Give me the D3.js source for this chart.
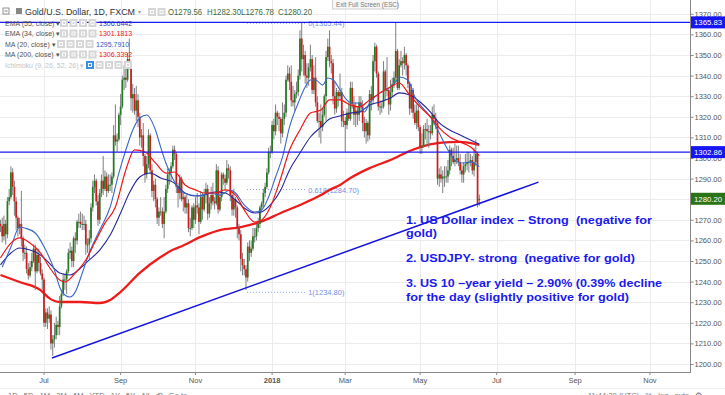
<!DOCTYPE html>
<html>
<head>
<meta charset="utf-8">
<script src="https://cdn.jsdelivr.net/npm/d3@7/dist/d3.min.js"></script>
<style>
html, body { margin: 0; padding: 0; background: #fff; overflow: hidden; }
svg { display: block; font-family: "Liberation Sans", Arial, sans-serif; }
</style>
</head>
<body>
<svg id="chart" width="725" height="395"></svg>
<script>
// daily bars, first one is Mon 29 May 2017 (weekdays only)
var startDay = '2017-05-29';

// [open, high, low, close], one row per week
var candles = [
  [1268,1270,1264,1267],[1267,1271,1259,1262],[1262,1272,1260,1268],[1268,1270,1258,1263],[1263,1281,1261,1279],
  [1279,1285,1277,1281],[1281,1296,1280,1293],[1293,1295,1282,1286],[1286,1289,1272,1279],[1279,1281,1265,1271],
  [1271,1272,1262,1266],[1266,1271,1263,1268],[1268,1284,1257,1261],[1261,1262,1250,1254],[1254,1258,1251,1254],
  [1254,1257,1244,1246],[1246,1249,1241,1243],[1243,1250,1242,1247],[1247,1254,1245,1250],[1250,1258,1249,1256],
  [1256,1258,1236,1245],[1245,1256,1244,1253],[1253,1256,1245,1249],[1249,1252,1243,1244],[1244,1246,1236,1241],
  [1241,1242,1218,1220],[1220,1227,1218,1225],[1225,1227,1217,1222],[1222,1228,1220,1224],[1224,1226,1207,1210],
  [1210,1214,1204,1212],[1212,1220,1208,1214],[1214,1223,1212,1219],[1219,1221,1214,1218],[1218,1233,1214,1228],
  [1228,1236,1227,1234],[1234,1244,1233,1241],[1241,1244,1236,1241],[1241,1246,1234,1245],[1245,1256,1244,1254],
  [1254,1259,1251,1255],[1255,1257,1247,1250],[1250,1262,1247,1261],[1261,1264,1254,1260],[1260,1270,1258,1269],
  [1269,1273,1266,1269],[1269,1274,1266,1268],[1268,1273,1265,1268],[1268,1272,1265,1268],[1268,1270,1253,1258],
  [1258,1261,1254,1258],[1258,1265,1251,1261],[1261,1278,1259,1276],[1276,1289,1274,1286],[1286,1292,1283,1289],
  [1289,1290,1277,1279],[1279,1282,1267,1270],[1270,1285,1268,1283],[1283,1292,1281,1289],[1289,1301,1282,1285],
  [1285,1294,1284,1291],[1291,1293,1281,1284],[1284,1292,1283,1287],[1287,1292,1284,1287],[1287,1293,1283,1291],
  [1291,1316,1290,1311],[1311,1326,1306,1308],[1308,1312,1303,1309],[1309,1322,1308,1321],[1321,1331,1316,1325],
  [1325,1340,1324,1338],[1338,1345,1333,1339],[1339,1344,1334,1338],[1338,1351,1337,1348],[1348,1358,1343,1346],
  [1346,1347,1323,1329],[1329,1336,1322,1331],[1331,1334,1321,1323],[1323,1335,1318,1328],[1328,1331,1315,1320],
  [1320,1322,1306,1310],[1310,1314,1305,1311],[1311,1317,1296,1301],[1301,1302,1288,1292],[1292,1301,1290,1297],
  [1297,1314,1295,1311],[1311,1312,1292,1294],[1294,1297,1281,1284],[1284,1289,1279,1287],[1287,1290,1276,1280],
  [1280,1281,1268,1271],[1271,1276,1267,1274],[1274,1281,1272,1274],[1274,1276,1266,1268],[1268,1281,1261,1274],
  [1274,1287,1273,1285],[1285,1295,1283,1292],[1292,1295,1287,1293],[1293,1298,1289,1296],[1296,1306,1295,1304],
  [1304,1306,1299,1302],[1302,1303,1283,1286],[1286,1288,1276,1283],[1283,1292,1280,1290],[1290,1291,1279,1280],
  [1280,1283,1274,1281],[1281,1282,1273,1276],[1276,1282,1273,1278],[1278,1280,1264,1266],[1266,1271,1262,1266],
  [1266,1277,1265,1276],[1276,1278,1266,1270],[1270,1281,1268,1277],[1277,1283,1273,1276],[1276,1278,1263,1269],
  [1269,1284,1268,1281],[1281,1283,1270,1275],[1275,1285,1274,1282],[1282,1288,1278,1285],[1285,1287,1270,1273],
  [1273,1281,1271,1278],[1278,1286,1275,1282],[1282,1288,1277,1279],[1279,1281,1275,1278],[1278,1297,1277,1294],
  [1294,1296,1273,1275],[1275,1283,1274,1281],[1281,1293,1279,1292],[1292,1293,1287,1290],[1290,1292,1284,1288],
  [1288,1299,1287,1295],[1295,1297,1290,1294],[1294,1296,1279,1282],[1282,1284,1272,1275],[1275,1285,1272,1280],
  [1280,1281,1271,1276],[1276,1277,1261,1266],[1266,1268,1260,1263],[1263,1265,1245,1251],[1251,1254,1243,1248],
  [1248,1251,1243,1246],[1246,1248,1236,1242],[1242,1259,1240,1257],[1257,1260,1250,1254],[1254,1260,1252,1256],
  [1256,1266,1255,1262],[1262,1266,1259,1262],[1262,1268,1260,1266],[1266,1271,1264,1268],[1268,1277,1266,1276],
  [1276,1279,1274,1278],[1278,1285,1276,1283],[1283,1288,1281,1286],[1286,1295,1285,1293],[1293,1305,1292,1303],
  [1303,1306,1300,1303],[1303,1318,1302,1316],[1316,1319,1309,1313],[1313,1326,1311,1322],[1322,1323,1316,1320],
  [1320,1322,1313,1319],[1319,1320,1307,1312],[1312,1327,1310,1319],[1319,1326,1316,1322],[1322,1340,1320,1338],
  [1338,1345,1337,1341],[1341,1344,1333,1337],[1337,1345,1325,1328],[1328,1335,1325,1327],[1327,1333,1323,1331],
  [1331,1337,1329,1332],[1332,1343,1330,1340],[1340,1362,1338,1358],[1358,1366,1342,1348],[1348,1355,1340,1350],
  [1350,1352,1336,1340],[1340,1346,1334,1339],[1339,1346,1335,1344],[1344,1355,1342,1348],[1348,1350,1331,1333],
  [1333,1345,1331,1339],[1339,1349,1325,1327],[1327,1330,1317,1318],[1318,1322,1310,1318],[1318,1326,1307,1315],
  [1315,1324,1313,1321],[1321,1331,1320,1330],[1330,1352,1318,1349],[1349,1358,1347,1354],[1354,1362,1344,1347],
  [1347,1350,1341,1346],[1346,1348,1326,1330],[1330,1337,1321,1324],[1324,1334,1322,1332],[1332,1333,1325,1330],
  [1330,1341,1328,1332],[1332,1334,1315,1318],[1318,1323,1315,1318],[1318,1320,1303,1316],[1316,1324,1314,1322],
  [1322,1327,1318,1319],[1319,1337,1318,1334],[1334,1337,1324,1326],[1326,1330,1316,1321],[1321,1327,1315,1323],
  [1323,1325,1316,1321],[1321,1330,1318,1327],[1327,1330,1322,1325],[1325,1328,1313,1317],[1317,1320,1310,1313],
  [1313,1319,1307,1317],[1317,1318,1308,1311],[1311,1333,1309,1331],[1331,1335,1323,1328],[1328,1350,1326,1347],
  [1347,1356,1342,1354],[1354,1355,1339,1341],[1341,1342,1323,1325],[1325,1328,1321,1325],[1325,1327,1322,1325],
  [1325,1347,1324,1342],[1342,1343,1328,1333],[1333,1349,1330,1333],[1333,1334,1321,1326],[1326,1338,1323,1332],
  [1332,1339,1330,1336],[1336,1342,1334,1339],[1339,1366,1337,1352],[1352,1353,1333,1334],[1334,1348,1333,1345],
  [1345,1352,1344,1347],[1347,1349,1340,1346],[1346,1354,1343,1350],[1350,1351,1340,1345],[1345,1346,1334,1336],
  [1336,1337,1321,1324],[1324,1336,1322,1333],[1333,1334,1319,1322],[1322,1326,1316,1317],[1317,1326,1314,1323],
  [1323,1326,1313,1315],[1315,1316,1302,1305],[1305,1312,1302,1306],[1306,1316,1305,1314],[1314,1317,1309,1314],
  [1314,1319,1306,1313],[1313,1316,1305,1313],[1313,1316,1309,1312],[1312,1325,1311,1321],[1321,1326,1316,1319],
  [1319,1322,1314,1317],[1317,1318,1287,1290],[1290,1295,1286,1292],[1292,1296,1288,1290],[1290,1294,1283,1291],
  [1291,1296,1286,1291],[1291,1296,1288,1291],[1291,1299,1288,1294],[1294,1306,1292,1304],[1304,1305,1296,1301],
  [1301,1305,1297,1298],[1298,1307,1296,1299],[1299,1306,1297,1300],[1300,1306,1296,1298],[1298,1302,1292,1294],
  [1294,1297,1288,1292],[1292,1298,1288,1296],[1296,1302,1293,1297],[1297,1303,1294,1298],[1298,1303,1293,1298],
  [1298,1302,1296,1299],[1299,1301,1292,1294],[1294,1305,1291,1298],[1298,1309,1296,1302],[1302,1303,1276,1278],
  [1279.56,1282.30,1276.78,1280.20]
];

// indicator lines, [bar number, value]
var ema55 = [[0,1248.1],[6,1253.9],[11,1256.3],[17,1255.3],[23,1252.9],[28,1249.0],[34,1244.2],[40,1243.2],
  [46,1246.6],[51,1250.5],[57,1255.3],[63,1262.6],[69,1273.3],[74,1283.0],[80,1290.8],[86,1292.7],[92,1290.3],
  [99,1288.3],[106,1283.0],[112,1281.6],[117,1282.0],[123,1283.5],[129,1283.0],[135,1279.6],[140,1275.7],
  [146,1273.3],[150,1273.8],[155,1277.2],[161,1284.5],[166,1294.2],[172,1302.4],[178,1310.2],[184,1315.0],
  [189,1318.9],[195,1320.4],[201,1321.8],[206,1322.3],[212,1325.7],[218,1327.2],[224,1329.1],[229,1331.6],
  [235,1330.6],[241,1327.2],[247,1322.3],[252,1317.0],[258,1313.6],[264,1311.2],[270,1308.7],[275,1306.64]];

var ema34 = [[0,1251.5],[6,1258.7],[11,1261.2],[17,1258.7],[23,1253.9],[28,1247.1],[34,1240.8],[37,1239.8],
  [43,1244.2],[49,1250.5],[54,1258.7],[60,1268.4],[66,1276.2],[72,1294.2],[77,1303.9],[83,1302.9],[89,1297.6],
  [95,1292.7],[100,1293.2],[106,1286.9],[112,1284.5],[117,1283.0],[123,1283.0],[129,1284.5],[135,1282.0],
  [140,1274.8],[146,1268.9],[150,1269.9],[155,1276.2],[161,1290.3],[166,1303.9],[172,1313.6],[178,1321.8],
  [184,1323.3],[189,1328.2],[195,1328.2],[201,1325.7],[206,1324.8],[212,1328.2],[218,1331.6],[224,1334.5],
  [229,1336.4],[235,1330.6],[241,1324.8],[247,1319.9],[252,1314.6],[258,1310.2],[264,1307.8],[270,1305.3],
  [275,1301.18]];

var ma20 = [[1,1247.1],[6,1256.8],[11,1266.5],[14,1266.0],[20,1263.6],[26,1255.3],[31,1245.6],[34,1237.4],
  [37,1233.5],[40,1232.5],[43,1235.0],[47,1244.2],[51,1253.9],[57,1265.0],[63,1276.2],[68,1292.7],[72,1303.9],
  [76,1313.6],[80,1319.4],[84,1320.9],[89,1313.6],[92,1305.3],[95,1297.6],[100,1288.3],[103,1284.5],[109,1282.0],
  [115,1281.6],[120,1283.0],[126,1282.0],[132,1284.5],[135,1283.0],[140,1277.2],[146,1273.8],[150,1274.8],
  [154,1281.1],[158,1290.8],[162,1300.5],[166,1315.0],[171,1326.7],[175,1334.5],[178,1337.9],[181,1337.9],
  [185,1335.4],[188,1338.8],[191,1338.0],[195,1333.0],[198,1329.1],[202,1326.7],[206,1326.7],[209,1322.3],
  [212,1326.7],[218,1331.6],[224,1334.5],[227,1336.9],[229,1339.3],[234,1337.9],[238,1329.6],[242,1324.8],
  [247,1319.9],[252,1312.1],[257,1303.9],[261,1299.0],[265,1297.6],[270,1298.1],[275,1295.79]];

var ma200 = [[0,1243.2],[11,1239.8],[23,1235.9],[28,1232.0],[34,1230.1],[46,1230.1],[57,1229.6],[63,1231.1],
  [69,1235.0],[80,1244.2],[92,1251.9],[100,1255.8],[103,1256.8],[115,1261.7],[126,1265.0],[138,1266.5],
  [149,1268.9],[161,1273.3],[172,1277.2],[184,1282.0],[189,1284.5],[195,1286.9],[201,1290.3],[212,1295.1],
  [224,1299.0],[235,1303.4],[241,1305.3],[252,1307.3],[264,1307.8],[275,1306.34]];

var yTicks = [1200,1210,1220,1230,1240,1250,1260,1270,1280,1290,1300,1310,1320,1330,1340,1350,1360,1370];
var monthDays = ['2017-07-03','2017-09-01','2017-11-01','2018-01-02','2018-03-01','2018-05-01','2018-07-02','2018-09-03','2018-11-01'];
var monthLabels = ['Jul','Sep','Nov','2018','Mar','May','Jul','Sep','Nov'];

var hLevels = [1365.83, 1302.86];
var lastClose = 1280.20;
var trendLine = [[29.6,1202.9],[309,1288.3]];
var fibNames = ['0','0.618','1'];
var fibValues = [1365.44, 1284.70, 1234.80];
var fibBars = [141.6, 175];

var legendNames = ['EMA (55, close)','EMA (34, close)','MA (20, close)','MA (200, close)'];
var legendValues = ['1306.6442','1301.1813','1295.7910','1306.3392'];
var legendColors = ['#3434b8','#f01414','#2a5bc4','#f01414'];
var ohlcText = ['O1279.56','H1282.30','L1276.78','C1280.20'];

var notes = ['1. US Dollar index \u2013 Strong  (negative for','gold)','2. USDJPY- strong  (negative for gold)',
  '3. US 10 \u2013year yield \u2013 2.90% (0.39% decline','for the day (slightly positive for gold)'];
var noteY = [224, 237, 262, 287, 301];
var noteW = [246, 31, 229, 256, 223];

// count weekdays from startDay, that is the bar number
function barOf(day) {
  var t0 = Date.parse(startDay + 'T00:00:00Z'), t1 = Date.parse(day + 'T00:00:00Z');
  var n = 0;
  for (var t = t0; t < t1; t += 864e5) {
    var wd = new Date(t).getUTCDay();
    if (wd !== 0 && wd !== 6) n++;
  }
  return n;
}

var svg = d3.select('#chart');
var plotW = 690, plotH = 372;

var x = d3.scaleLinear().domain([0, 275]).range([0.47, 479.3]);
var y = d3.scaleLinear().domain([1200, 1370]).range([364, 13.8]);

svg.append('defs').append('clipPath').attr('id', 'plot')
  .append('rect').attr('x', 0).attr('y', 0).attr('width', plotW).attr('height', plotH);

// grid
var grid = svg.append('g');
grid.selectAll('line.h').data(yTicks).enter().append('line')
  .attr('x1', 0).attr('x2', plotW)
  .attr('y1', function (d) { return Math.round(y(d)) + 0.5; })
  .attr('y2', function (d) { return Math.round(y(d)) + 0.5; })
  .attr('stroke', '#ececec');
grid.selectAll('line.v').data(monthDays).enter().append('line')
  .attr('x1', function (d) { return Math.round(x(barOf(d))) + 0.5; })
  .attr('x2', function (d) { return Math.round(x(barOf(d))) + 0.5; })
  .attr('y1', 0).attr('y2', plotH)
  .attr('stroke', '#ececec');

var plot = svg.append('g').attr('clip-path', 'url(#plot)');

// fib retracement (dotted)
fibValues.forEach(function (v, i) {
  plot.append('line')
    .attr('x1', x(fibBars[0])).attr('x2', x(fibBars[1]))
    .attr('y1', y(v)).attr('y2', y(v))
    .attr('stroke', '#8aa2ee').attr('stroke-dasharray', '1,2');
  plot.append('text')
    .attr('x', x(fibBars[1]) + 3).attr('y', y(v) + 3)
    .attr('font-size', 7.5).attr('fill', '#6f8fe6')
    .text(fibNames[i] + '(' + v.toFixed(2) + ')');
});

// moving averages
var line = d3.line()
  .x(function (d) { return x(d[0]); })
  .y(function (d) { return y(d[1]); })
  .curve(d3.curveMonotoneX);

plot.append('path').datum(ma200).attr('d', line).attr('fill', 'none')
  .attr('stroke', '#ee1b1b').attr('stroke-width', 2.3);

// candles
var bw = 1.7;
var bars = plot.append('g');
bars.selectAll('line').data(candles).enter().append('line')
  .attr('x1', function (d, i) { return x(i); })
  .attr('x2', function (d, i) { return x(i); })
  .attr('y1', function (d) { return y(d[1]); })
  .attr('y2', function (d) { return y(d[2]); })
  .attr('stroke', '#707070').attr('stroke-width', 0.9);
bars.selectAll('rect').data(candles).enter().append('rect')
  .attr('x', function (d, i) { return x(i) - bw / 2; })
  .attr('y', function (d) { return y(Math.max(d[0], d[3])); })
  .attr('width', bw)
  .attr('height', function (d) { return Math.max(1, Math.abs(y(d[0]) - y(d[3]))); })
  .attr('fill', function (d) { return d[3] >= d[0] ? '#237a23' : '#cc1d1d'; });

plot.append('path').datum(ema55).attr('d', line).attr('fill', 'none')
  .attr('stroke', '#26269a').attr('stroke-width', 1.1);
plot.append('path').datum(ma20).attr('d', line).attr('fill', 'none')
  .attr('stroke', '#3868c8').attr('stroke-width', 1.1);
plot.append('path').datum(ema34).attr('d', line).attr('fill', 'none')
  .attr('stroke', '#f01818').attr('stroke-width', 1.2);

// trend line and horizontal levels
plot.append('line')
  .attr('x1', x(trendLine[0][0])).attr('y1', y(trendLine[0][1]))
  .attr('x2', x(trendLine[1][0])).attr('y2', y(trendLine[1][1]))
  .attr('stroke', '#1414dc').attr('stroke-width', 1.5);
hLevels.forEach(function (v) {
  plot.append('line').attr('x1', 0).attr('x2', plotW)
    .attr('y1', y(v)).attr('y2', y(v))
    .attr('stroke', '#1a1af0').attr('stroke-width', 1.4);
});

// axes frame
svg.append('line').attr('x1', plotW + 0.5).attr('x2', plotW + 0.5).attr('y1', 0).attr('y2', plotH)
  .attr('stroke', '#888');
svg.append('line').attr('x1', 0).attr('x2', plotW + 1).attr('y1', plotH + 0.5).attr('y2', plotH + 0.5)
  .attr('stroke', '#888');

// right axis, the price tags below are drawn on top of it
var yAxis = d3.axisRight(y).tickValues(yTicks).tickSize(3).tickFormat(d3.format('.2f'));
var ya = svg.append('g').attr('transform', 'translate(' + (plotW + 0.5) + ',0)').call(yAxis);
ya.select('.domain').remove();
ya.selectAll('line').attr('stroke', '#888');
ya.selectAll('text').attr('font-size', 7.5).attr('fill', '#555').attr('x', 4)
  .attr('font-family', '"Liberation Sans", Arial, sans-serif');

// bottom axis
var xa = svg.append('g');
xa.selectAll('text').data(monthDays).enter().append('text')
  .attr('x', function (d) { return x(barOf(d)); })
  .attr('y', 383)
  .attr('text-anchor', 'middle')
  .attr('font-size', 7.5).attr('fill', '#555')
  .attr('font-weight', function (d, i) { return monthLabels[i] === '2018' ? 'bold' : 'normal'; })
  .text(function (d, i) { return monthLabels[i]; });
xa.selectAll('line').data(monthDays).enter().append('line')
  .attr('x1', function (d) { return x(barOf(d)); })
  .attr('x2', function (d) { return x(barOf(d)); })
  .attr('y1', plotH).attr('y2', plotH + 3).attr('stroke', '#888');

// price tags on the axis
function tag(v, color) {
  svg.append('rect').attr('x', plotW + 1).attr('y', y(v) - 6).attr('width', 34).attr('height', 12)
    .attr('fill', color);
  svg.append('text').attr('x', plotW + 4).attr('y', y(v) + 3)
    .attr('font-size', 7.8).attr('fill', '#fff').text(v.toFixed(2));
}
hLevels.forEach(function (v) { tag(v, '#1515f5'); });
tag(lastClose, '#2b7317');

// annotation text
svg.selectAll('text.note').data(notes).enter().append('text')
  .attr('x', 406)
  .attr('y', function (d, i) { return noteY[i]; })
  .attr('textLength', function (d, i) { return noteW[i]; })
  .attr('lengthAdjust', 'spacingAndGlyphs')
  .attr('font-size', 11.5).attr('font-weight', 'bold').attr('fill', '#1a1af0')
  .style('white-space', 'pre')
  .text(function (d) { return d; });

// legend, top left
function icons(x0, yc, n, first) {
  for (var k = 0; k < n; k++) {
    svg.append('rect').attr('x', x0 + k * 9.5).attr('y', yc - 4).attr('width', 8).attr('height', 8)
      .attr('fill', k === 0 && first ? '#3b8ee0' : '#d6d6d6');
    svg.append('rect').attr('x', x0 + k * 9.5 + 2.5).attr('y', yc - 1.5).attr('width', 3).attr('height', 3)
      .attr('fill', 'none').attr('stroke', '#fff').attr('stroke-width', 0.9);
  }
}

svg.append('rect').attr('x', 3).attr('y', 8).attr('width', 6).attr('height', 6)
  .attr('fill', 'none').attr('stroke', '#777').attr('stroke-width', 0.8);
svg.append('line').attr('x1', 4.5).attr('x2', 7.5).attr('y1', 11).attr('y2', 11).attr('stroke', '#777');
svg.append('rect').attr('x', 16).attr('y', 8).attr('width', 6).attr('height', 6).attr('fill', '#888');
svg.append('text').attr('x', 25).attr('y', 15).attr('font-size', 8.8).attr('fill', '#333')
  .attr('textLength', 110).attr('lengthAdjust', 'spacingAndGlyphs')
  .text('Gold/U.S. Dollar, 1D, FXCM');
svg.append('text').attr('x', 138).attr('y', 14).attr('font-size', 6).attr('fill', '#999').text('\u25BE');
icons(148, 12, 2, false);
var ohlcX = [168, 207, 241, 278];
var ohlcW = [34, 34, 33, 34];
ohlcText.forEach(function (t, i) {
  svg.append('text').attr('x', ohlcX[i]).attr('y', 15).attr('font-size', 8.4).attr('fill', '#3f6a3f')
    .attr('textLength', ohlcW[i]).attr('lengthAdjust', 'spacingAndGlyphs').text(t);
});

var rowY = [23, 33.5, 44, 54.5];
var iconX = [60, 60, 57, 60];
var valX = [99, 99, 96, 99];
legendNames.forEach(function (t, i) {
  svg.append('text').attr('x', 5).attr('y', rowY[i] + 2.5).attr('font-size', 7).attr('fill', '#555')
    .text(t + ' \u25BE');
  icons(iconX[i], rowY[i], 4, false);
  svg.append('text').attr('x', valX[i]).attr('y', rowY[i] + 2.5).attr('font-size', 7)
    .attr('fill', legendColors[i]).text(legendValues[i]);
});
svg.append('text').attr('x', 5).attr('y', 67.5).attr('font-size', 7).attr('fill', '#c4c4c4')
  .text('Ichimoku (9, 26, 52, 26) \u25BE');
icons(86, 65, 5, true);

// exit full screen hint
svg.append('rect').attr('x', 332.5).attr('y', -1).attr('width', 65).attr('height', 10)
  .attr('fill', '#f7f7f7').attr('stroke', '#d0d0d0');
svg.append('text').attr('x', 336).attr('y', 6.5).attr('font-size', 6.3).attr('fill', '#777')
  .text('Exit Full Screen (ESC)');

// bottom toolbar (cut off by the window, as in the screenshot)
svg.append('line').attr('x1', 0).attr('x2', 725).attr('y1', 388.5).attr('y2', 388.5).attr('stroke', '#eee');
svg.append('text').attr('x', 8).attr('y', 398).attr('font-size', 7.5).attr('fill', '#777')
  .style('white-space', 'pre').text('1D   5D   1M   3M   6M   YTD   1Y   5Y   All   \u27F2   Go to...');
svg.append('text').attr('x', 588).attr('y', 398).attr('font-size', 7.5).attr('fill', '#777')
  .style('white-space', 'pre').text('11:44:39 (UTC)   %   log   auto   \u2699');
</script>
</body>
</html>
